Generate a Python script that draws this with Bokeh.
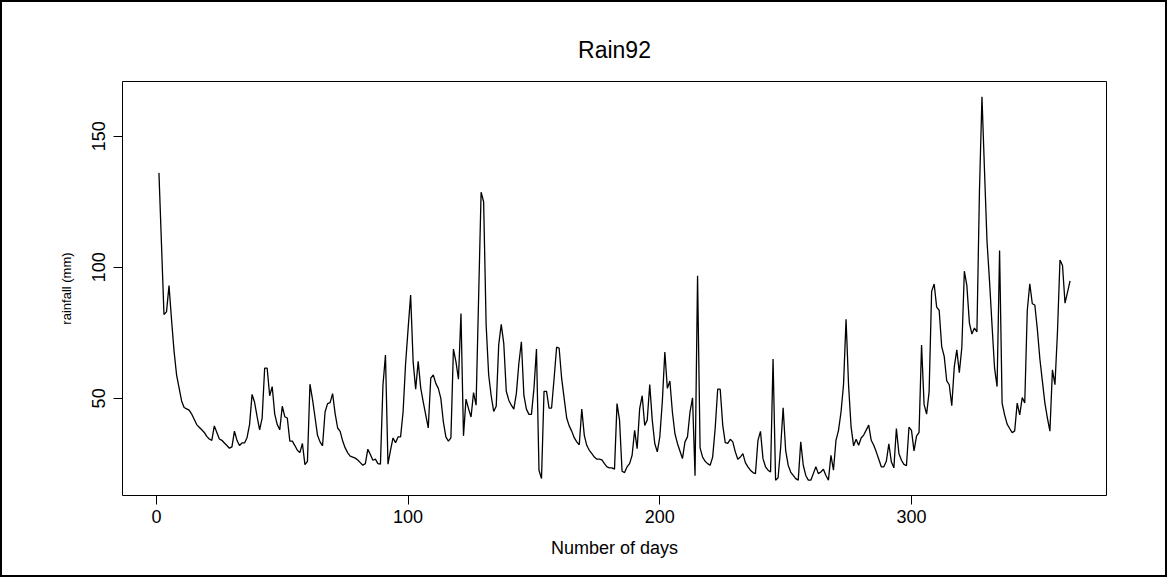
from bokeh.plotting import figure
from bokeh.models import Range1d, FixedTicker
from bokeh.embed import file_html
from bokeh.resources import INLINE

# Daily rainfall values (mm), 1992
rain92 = [
    136, 109, 82, 83, 93, 80, 68, 59, 54, 49,
    46.5, 46, 45.5, 44, 42, 40, 39, 38, 37, 35.5,
    34.5, 34, 39.5, 37, 34.5, 34, 33, 32, 31, 31.5,
    37.5, 34, 32, 33, 33, 35, 40, 51.5, 48.5, 43,
    38, 42.5, 61.5, 61.5, 51, 54.5, 44, 40, 38, 47,
    43, 42.5, 33.7, 33.7, 32, 30.2, 29.3, 32.8, 24.7, 26,
    55.4, 49.7, 42.9, 35.9, 33.4, 31.9, 44.8, 48, 48.4, 51.8,
    44.2, 38.7, 37.4, 33.7, 31.1, 29.2, 28, 27.6, 27.2, 26.5,
    25.5, 24.5, 25.1, 30.6, 28.6, 26.4, 26.8, 25.1, 24.9, 55,
    66.5, 24.9, 30.2, 34.9, 33.1, 35.3, 35.3, 44.8, 63.3, 76.6,
    89.4, 63.9, 53.5, 64.1, 54, 48.7, 43.7, 38.7, 57.7, 58.9,
    55.7, 53.8, 50, 41, 35.3, 33.7, 34.9, 68.8, 64, 57.3,
    82.4, 35.7, 49.7, 46.1, 42.9, 52.2, 47.4, 88, 128.6, 125,
    78, 59, 51, 45, 47, 70.5, 78.2, 71, 52.7, 49.3,
    47.4, 45.9, 51.8, 63.3, 71.6, 51.1, 45.9, 43.9, 43.9, 53.8,
    68.8, 22.6, 19.4, 52.7, 52.7, 46.3, 46.3, 57.6, 69.5, 69.2,
    57.6, 50, 42.5, 39.5, 37.5, 35, 33.4, 32.3, 45.9, 35.9,
    32, 30.2, 28.9, 27.6, 26.8, 26.8, 26.5, 25.1, 23.9, 23.5,
    23.5, 23, 48, 41.7, 22.2, 21.7, 23.9, 25.1, 28.3, 37.8,
    30.8, 46.1, 51, 39.7, 41.7, 55.3, 41.7, 32.8, 29.6, 35.3,
    48.7, 67.7, 53.8, 56.6, 44.8, 36.6, 32.8, 29.9, 27, 33.4,
    35.3, 44.8, 50.2, 20.5, 96.8, 31.1, 27.6, 26, 25.1, 24.5,
    27.6, 38.5, 53.5, 53.5, 39.8, 33.1, 32.8, 34.4, 33.4, 29.6,
    26.8, 27.6, 28.9, 25.5, 23.9, 22.6, 21.7, 21.3, 34, 37.4,
    27, 23.9, 22.6, 21.9, 65, 18.8, 19.7, 31.1, 46.4, 30.2,
    24.5, 21.9, 20.6, 19.4, 18.8, 33.4, 24.5, 20.6, 18.8, 18.8,
    21.3, 23.9, 21.3, 21.9, 23, 20.6, 18.8, 28.3, 22.6, 34,
    37.8, 44.8, 55.3, 80.2, 55, 39.1, 31.9, 34.4, 32.1, 34.9,
    36, 37.9, 39.8, 34, 32.1, 29.6, 26.8, 23.9, 23.9, 26,
    32.7, 25.8, 23.5, 38.5, 29, 26.4, 24.8, 24.3, 39, 37.8,
    30, 35.6, 37, 70.3, 47.7, 44, 52.5, 90.8, 93.6, 84.8,
    83.6, 69.7, 66, 56.7, 55.2, 47.2, 62, 68.5, 59.8, 69.4,
    98.5, 93, 78.8, 74.5, 76.8, 75.4, 129, 165, 137, 110,
    94.8, 77.9, 61.6, 54.5, 106.4, 48.2, 43.7, 40.2, 38.5, 36.9,
    37.6, 48.2, 43.7, 50.3, 48.2, 83.5, 93.7, 86.1, 85.6, 76.4,
    65.1, 56.6, 48.2, 42.5, 37.5, 60.9, 55.2, 75.3, 102.8, 100.7,
    86.3, 90.5, 94.8,
]
days = list(range(1, len(rain92) + 1))

x_ticks = [0, 100, 200, 300]
y_ticks = [50, 100, 150]
title_text = "Rain92"
x_label = "Number of days"
y_label = "rainfall (mm)"


def padded(lo, hi, frac=0.04):
    d = (hi - lo) * frac
    return lo - d, hi + d


x0, x1 = padded(min(days), max(days))
y0, y1 = padded(min(rain92), max(rain92))

FONT = "Liberation Sans"

p = figure(
    width=1167, height=577,
    output_backend="svg", toolbar_location=None,
    x_range=Range1d(x0, x1), y_range=Range1d(y0, y1),
    min_border_left=120, min_border_right=63,
    min_border_top=79, min_border_bottom=84,
    title=title_text,
)
p.styles = {"border": "2px solid black"}
p.background_fill_color = "white"
p.border_fill_color = "white"
p.outline_line_color = "black"
p.outline_line_width = 1
p.outline_line_alpha = 1.0
p.grid.visible = False

p.title.align = "center"
p.title.text_font = FONT
p.title.text_font_size = "23px"
p.title.text_font_style = "normal"
p.title.text_color = "black"
p.title.standoff = 38

p.xaxis.ticker = FixedTicker(ticks=x_ticks)
p.yaxis.ticker = FixedTicker(ticks=y_ticks)
p.xaxis.axis_label = x_label
p.yaxis.axis_label = y_label
for ax in (p.xaxis[0], p.yaxis[0]):
    ax.axis_line_color = None
    ax.major_tick_in = 0
    ax.major_tick_out = 9
    ax.major_tick_line_color = "black"
    ax.minor_tick_line_color = None
    ax.major_label_text_font = FONT
    ax.major_label_text_font_size = "18px"
    ax.major_label_text_color = "black"
    ax.axis_label_text_font = FONT
    ax.axis_label_text_font_style = "normal"
    ax.axis_label_text_color = "black"

p.xaxis.major_label_standoff = 5
p.xaxis.axis_label_text_font_size = "18px"
p.xaxis.axis_label_standoff = 12

p.yaxis.major_label_orientation = "vertical"
p.yaxis.major_label_standoff = 8
p.yaxis.axis_label_text_font_size = "13px"
p.yaxis.axis_label_standoff = 16

p.line(days, rain92, line_color="black", line_width=1.3)

open("out.html", "w").write(file_html(p, INLINE))
